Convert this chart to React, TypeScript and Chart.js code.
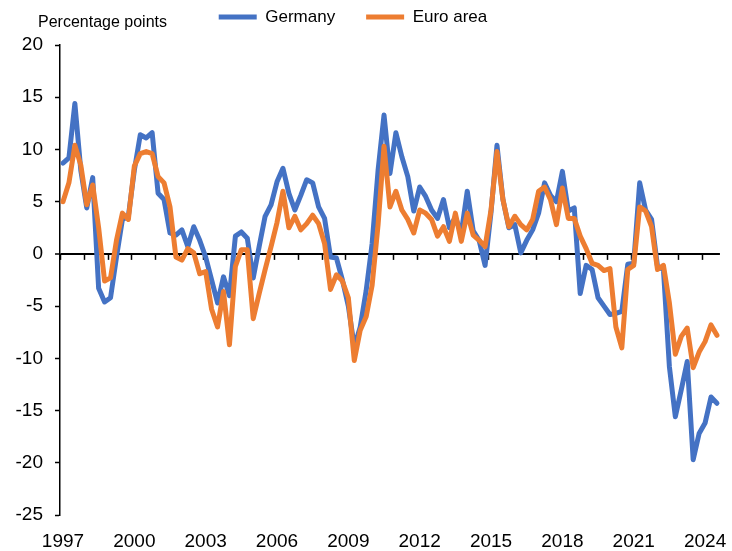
import { useEffect, useRef } from 'react';
import { Chart, registerables } from 'chart.js';

Chart.register(...registerables);

// Quarterly categories 1997Q1 .. 2024Q3
const years = [1997, 1998, 1999, 2000, 2001, 2002, 2003, 2004, 2005, 2006, 2007, 2008, 2009, 2010,
  2011, 2012, 2013, 2014, 2015, 2016, 2017, 2018, 2019, 2020, 2021, 2022, 2023, 2024];
const quarters = ['Q1', 'Q2', 'Q3', 'Q4'];
const lastCategory = '2024Q3';
const allQuarters: string[] = [];
years.forEach((y) => quarters.forEach((q) => allQuarters.push(`${y}${q}`)));
const categories = allQuarters.slice(0, allQuarters.indexOf(lastCategory) + 1);

const tickYears = ['1997', '2000', '2003', '2006', '2009', '2012', '2015', '2018', '2021', '2024'];
const axisTitle = 'Percentage points';

const germany = [
  8.7, 9.2, 14.4, 8.0, 4.4, 7.3, -3.3, -4.6, -4.2, -0.3, 3.3, 3.6,
  8.0, 11.4, 11.1, 11.6, 5.8, 5.2, 2.0, 1.8, 2.3, 0.7, 2.6, 1.3,
  -0.3, -2.5, -4.7, -2.2, -4.0, 1.7, 2.1, 1.5, -2.3, 0.7, 3.6, 4.7,
  6.9, 8.2, 5.8, 4.2, 5.6, 7.1, 6.8, 4.5, 3.4, -0.3, -0.4, -2.5,
  -5.0, -8.9, -7.0, -3.5, 1.0, 8.0, 13.3, 7.7, 11.6, 9.3, 7.4, 4.1,
  6.4, 5.5, 4.2, 3.4, 5.2, 2.5, 3.5, 2.0, 6.0, 2.2, 1.3, -1.1,
  4.0, 10.4, 5.2, 2.5, 2.8, 0.1, 1.3, 2.3, 3.9, 6.8, 5.6, 5.0,
  7.9, 4.1, 4.4, -3.8, -1.1, -1.5, -4.2, -5.0, -5.8, -5.7, -5.5, -1.0,
  -0.9, 6.8, 4.2, 3.3, -1.2, -1.5, -10.8, -15.6, -13.0, -10.3, -19.7, -17.2,
  -16.2, -13.7, -14.3,
];

const euroArea = [
  5.0, 6.8, 10.4, 8.5, 4.7, 6.6, 2.5, -2.6, -2.3, 1.3, 3.9, 3.3,
  8.4, 9.6, 9.8, 9.6, 7.4, 6.8, 4.5, -0.3, -0.6, 0.5, 0.1, -1.9,
  -1.7, -5.3, -7.0, -3.6, -8.7, -1.2, 0.4, 0.4, -6.2, -3.8, -1.5, 0.7,
  3.0, 6.0, 2.5, 3.6, 2.3, 2.9, 3.7, 2.9, 1.0, -3.4, -2.0, -2.6,
  -4.2, -10.2, -7.3, -6.0, -3.0, 2.8, 10.3, 4.5, 6.0, 4.2, 3.3, 2.0,
  4.2, 3.9, 3.3, 1.7, 2.6, 1.2, 3.9, 1.2, 3.9, 1.8, 1.3, 0.7,
  4.2, 9.8, 5.2, 2.6, 3.6, 2.8, 2.3, 3.3, 6.0, 6.4, 5.2, 2.8,
  6.3, 3.4, 3.4, 1.7, 0.5, -0.9, -1.1, -1.6, -1.4, -7.0, -9.0, -1.5,
  -1.1, 4.5, 4.1, 2.6, -1.5, -1.1, -4.7, -9.6, -7.9, -7.1, -10.9, -9.4,
  -8.4, -6.8, -7.8,
];

const FONT = '"Liberation Sans", Arial, sans-serif';
const LEGEND_FONT_SIZE = 17;
const LEGEND_PADDING = 31;
const LEGEND_CENTER_Y = 17;
const LEGEND_SHIFT_X = -8;

const decorPlugin = {
  id: 'decor',
  afterLayout(chart: any) {
    // move the legend row up/left; keep its bottom so nothing is clipped
    const lg = chart.legend;
    if (!lg) return;
    lg.top = LEGEND_CENTER_Y - LEGEND_PADDING - LEGEND_FONT_SIZE / 2;
    lg.left += LEGEND_SHIFT_X;
    lg.right += LEGEND_SHIFT_X;
  },
  beforeDatasetsDraw(chart: any) {
    const { ctx, scales } = chart;
    const x = scales.x;
    const y = scales.y;
    const y0 = y.getPixelForValue(0);
    ctx.save();
    ctx.strokeStyle = '#000';
    ctx.lineWidth = 1.5;
    for (let k = 0; k * 4 - 0.5 <= categories.length - 1; k++) {
      const px = Math.round(x.getPixelForValue(k * 4 - 0.5)) + 0.5;
      ctx.beginPath();
      ctx.moveTo(px, y0);
      ctx.lineTo(px, y0 + 6);
      ctx.stroke();
    }
    ctx.restore();
  },
  afterDraw(chart: any) {
    const { ctx, chartArea } = chart;
    ctx.save();
    ctx.fillStyle = '#000';
    ctx.font = `16px ${FONT}`;
    ctx.textAlign = 'left';
    ctx.textBaseline = 'middle';
    ctx.fillText(axisTitle, chartArea.left - 22, chartArea.top - 22);
    ctx.restore();
  },
};

export default function App() {
  const canvasRef = useRef<HTMLCanvasElement>(null);

  useEffect(() => {
    if (!canvasRef.current) return;
    const chart = new Chart(canvasRef.current, {
      type: 'line',
      data: {
        labels: categories,
        datasets: [
          {
            label: 'Germany',
            data: germany,
            borderColor: '#4472C4',
            backgroundColor: '#4472C4',
            borderWidth: 5,
            pointRadius: 0,
            pointStyle: 'line',
            tension: 0,
            borderJoinStyle: 'round',
            borderCapStyle: 'round',
            order: 1,
          },
          {
            label: 'Euro area',
            data: euroArea,
            borderColor: '#ED7D31',
            backgroundColor: '#ED7D31',
            borderWidth: 5,
            pointRadius: 0,
            pointStyle: 'line',
            tension: 0,
            borderJoinStyle: 'round',
            borderCapStyle: 'round',
            order: 0,
          },
        ],
      },
      options: {
        animation: false,
        responsive: true,
        maintainAspectRatio: false,
        layout: { padding: { left: 0, right: 10, top: 0, bottom: 0 } },
        plugins: {
          tooltip: { enabled: false },
          title: { display: false },
          legend: {
            display: true,
            position: 'top',
            maxHeight: 45,
            labels: {
              usePointStyle: true,
              pointStyle: 'line',
              pointStyleWidth: 38,
              color: '#000',
              padding: LEGEND_PADDING,
              font: { family: FONT, size: LEGEND_FONT_SIZE },
              sort: (a: any, b: any) => a.datasetIndex - b.datasetIndex,
            },
          },
        },
        scales: {
          x: {
            type: 'category',
            offset: true,
            grid: { display: false, drawTicks: false },
            border: { display: false },
            afterFit: (s: any) => { s.height = 36; },
            ticks: {
              autoSkip: false,
              maxRotation: 0,
              minRotation: 0,
              padding: 15,
              color: '#000',
              font: { family: FONT, size: 19 },
              callback: (_v: any, i: number) => (i % 12 === 0 ? tickYears[i / 12] ?? '' : ''),
            },
          },
          y: {
            min: -25,
            max: 20,
            afterFit: (s: any) => { s.width = 60; },
            border: { display: true, color: '#000', width: 1.5 },
            grid: {
              drawOnChartArea: true,
              drawTicks: true,
              tickLength: 5,
              tickColor: '#000',
              tickWidth: 1.5,
              color: (c: any) => (c.tick && c.tick.value === 0 ? '#000' : 'rgba(0,0,0,0)'),
              lineWidth: (c: any) => (c.tick && c.tick.value === 0 ? 2 : 1),
            },
            ticks: {
              stepSize: 5,
              padding: 12,
              color: '#000',
              font: { family: FONT, size: 19 },
            },
          },
        },
      },
      plugins: [decorPlugin],
    });
    return () => chart.destroy();
  }, []);

  return (
    <div style={{ position: 'absolute', left: 0, top: 0, width: 732, height: 551, background: '#fff' }}>
      <canvas ref={canvasRef} />
    </div>
  );
}
